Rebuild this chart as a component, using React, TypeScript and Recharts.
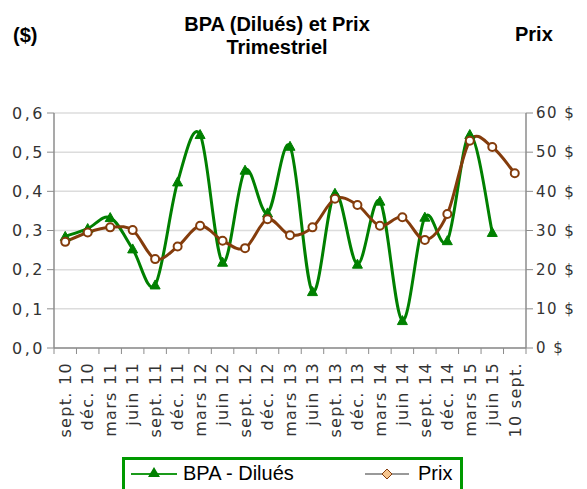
import React from "react";
import {
  LineChart,
  Line,
  XAxis,
  YAxis,
  CartesianGrid,
} from "recharts";

const quarters = [
  "sept. 10", "déc. 10", "mars 11", "juin 11", "sept. 11", "déc. 11",
  "mars 12", "juin 12", "sept. 12", "déc. 12", "mars 13", "juin 13",
  "sept. 13", "déc. 13", "mars 14", "juin 14", "sept. 14", "déc. 14",
  "mars 15", "juin 15", "10 sept.",
];

const bpaDilues = [
  0.285, 0.305, 0.333, 0.253, 0.161, 0.424, 0.545, 0.219, 0.454, 0.345,
  0.515, 0.144, 0.395, 0.214, 0.375, 0.07, 0.334, 0.274, 0.545, 0.295, null,
];

const prix = [
  27.1, 29.5, 30.8, 30.1, 22.7, 25.9, 31.2, 27.4, 25.5, 32.9,
  28.8, 30.8, 38.1, 36.5, 31.2, 33.4, 27.6, 34.2, 52.9, 51.3, 44.6,
];

const bpaTicks = [0, 0.1, 0.2, 0.3, 0.4, 0.5, 0.6];
const prixTicks = [0, 10, 20, 30, 40, 50, 60];

const data = quarters.map((q, i) => ({ q, bpa: bpaDilues[i], prix: prix[i] }));

const GREEN = "#008000";
const BROWN = "#843C0C";
const AXIS = "#8c8c8c";
const TICK_FONT = "'DejaVu Sans', Verdana, sans-serif";
const TITLE_FONT = "'Liberation Sans', Arial, sans-serif";

const W = 587;
const H = 489;
const LEFT_W = 54;
const RIGHT_W = 61;
const BAND = (W - LEFT_W - RIGHT_W) / quarters.length;

// excel-like smoothing (catmull-rom as bezier)
const smoothCurve = (context: any) => {
  let pts: number[][] = [];
  return {
    areaStart() {},
    areaEnd() {},
    lineStart() {
      pts = [];
    },
    point(x: number, y: number) {
      pts.push([+x, +y]);
    },
    lineEnd() {
      if (!pts.length) return;
      context.moveTo(pts[0][0], pts[0][1]);
      for (let i = 0; i < pts.length - 1; i++) {
        const p0 = pts[Math.max(i - 1, 0)];
        const p1 = pts[i];
        const p2 = pts[i + 1];
        const p3 = pts[Math.min(i + 2, pts.length - 1)];
        context.bezierCurveTo(
          p1[0] + (p2[0] - p0[0]) / 6,
          p1[1] + (p2[1] - p0[1]) / 6,
          p2[0] - (p3[0] - p1[0]) / 6,
          p2[1] - (p3[1] - p1[1]) / 6,
          p2[0],
          p2[1]
        );
      }
    },
  };
};

const Triangle = (props: any) => {
  const { cx, cy, index, value } = props;
  if (value == null || cx == null || cy == null) return <g key={`t${index}`} />;
  return (
    <path
      key={`t${index}`}
      d={`M${cx},${cy - 5} L${cx + 5},${cy + 4} L${cx - 5},${cy + 4} Z`}
      fill={GREEN}
      stroke={GREEN}
      strokeWidth={1}
    />
  );
};

const Ring = (props: any) => {
  const { cx, cy, index } = props;
  if (cx == null || cy == null) return <g key={`r${index}`} />;
  return (
    <circle key={`r${index}`} cx={cx} cy={cy} r={4} fill="#fff" stroke={BROWN} strokeWidth={2} />
  );
};

const QuarterTick = (props: any) => {
  const { x, y, payload, index } = props;
  const last = index === quarters.length - 1;
  return (
    <g>
      <line x1={x - BAND / 2} y1={y} x2={x - BAND / 2} y2={y + 6} stroke={AXIS} />
      {last && <line x1={x + BAND / 2} y1={y} x2={x + BAND / 2} y2={y + 6} stroke={AXIS} />}
      <text
        x={x}
        y={y + 14}
        dy="0.36em"
        textAnchor="end"
        transform={`rotate(-90, ${x}, ${y + 14})`}
        fontFamily={TICK_FONT}
        fontSize={16}
        letterSpacing={1.3}
        fill="#333"
      >
        {payload.value}
      </text>
    </g>
  );
};

const leftTickStyle = { fontFamily: TICK_FONT, fontSize: 16, fill: "#333", letterSpacing: 2.5 };
const rightTickStyle = { fontFamily: TICK_FONT, fontSize: 15, fill: "#333", letterSpacing: 1.5 };

const headStyle: React.CSSProperties = {
  position: "absolute",
  fontFamily: TITLE_FONT,
  fontWeight: "bold",
  fontSize: 20,
  lineHeight: "23px",
  color: "#000",
  whiteSpace: "nowrap",
};

export default function App() {
  return (
    <div style={{ position: "absolute", left: 0, top: 0, width: W, height: H, overflow: "hidden", background: "#fff" }}>
      <div style={{ ...headStyle, left: 127, width: 300, top: 13, textAlign: "center" }}>
        BPA (Dilués) et Prix
        <br />
        Trimestriel
      </div>
      <div style={{ ...headStyle, left: 13, top: 24 }}>($)</div>
      <div style={{ ...headStyle, left: 515, top: 23 }}>Prix</div>

      <LineChart
        width={W}
        height={H}
        data={data}
        margin={{ top: 113, right: 0, bottom: 0, left: 0 }}
        style={{ position: "absolute", left: 0, top: 0 }}
      >
        <CartesianGrid yAxisId="left" horizontal vertical={false} stroke="#dcdcdc" strokeWidth={1.5} />
        <XAxis
          dataKey="q"
          interval={0}
          height={H - 348}
          padding={{ left: BAND / 2, right: BAND / 2 }}
          axisLine={{ stroke: AXIS, strokeWidth: 1.5 }}
          tickLine={false}
          tickSize={0}
          tickMargin={0}
          tick={<QuarterTick />}
        />
        <YAxis
          yAxisId="left"
          width={LEFT_W}
          domain={[0, 0.6]}
          ticks={bpaTicks}
          tickFormatter={(v: number) => v.toFixed(1).replace(".", ",")}
          axisLine={{ stroke: AXIS, strokeWidth: 1.5 }}
          tickLine={{ stroke: AXIS }}
          tickSize={7}
          tickMargin={2}
          tick={leftTickStyle}
        />
        <YAxis
          yAxisId="right"
          orientation="right"
          width={RIGHT_W}
          domain={[0, 60]}
          ticks={prixTicks}
          tickFormatter={(v: number) => `${v} $`}
          axisLine={{ stroke: AXIS, strokeWidth: 1.5 }}
          tickLine={{ stroke: AXIS }}
          tickSize={7}
          tickMargin={3}
          tick={rightTickStyle}
        />
        <Line
          yAxisId="left"
          dataKey="bpa"
          type={smoothCurve as any}
          stroke={GREEN}
          strokeWidth={3}
          dot={Triangle}
          activeDot={false}
          isAnimationActive={false}
        />
        <Line
          yAxisId="right"
          dataKey="prix"
          type={smoothCurve as any}
          stroke={BROWN}
          strokeWidth={3}
          dot={Ring}
          activeDot={false}
          isAnimationActive={false}
        />
      </LineChart>

      <div
        style={{
          position: "absolute",
          left: 122,
          top: 457,
          width: 335,
          height: 40,
          border: "3px solid #009900",
          fontFamily: TITLE_FONT,
          fontSize: 20,
          color: "#000",
        }}
      >
        <svg width={48} height={20} style={{ position: "absolute", left: 6, top: 4 }}>
          <line x1={0} y1={10} x2={46} y2={10} stroke="#1a9a1a" strokeWidth={2} />
          <path d="M23,3 L29,13 L17,13 Z" fill={GREEN} />
        </svg>
        <span style={{ position: "absolute", left: 58, top: 2 }}>BPA - Dilués</span>
        <svg width={48} height={20} style={{ position: "absolute", left: 240, top: 4 }}>
          <line x1={0} y1={10} x2={44} y2={10} stroke="#999" strokeWidth={2} />
          <path d="M22,5 L27,10 L22,15 L17,10 Z" fill="#f6c58f" stroke={BROWN} strokeWidth={1} />
        </svg>
        <span style={{ position: "absolute", left: 293, top: 2 }}>Prix</span>
      </div>
    </div>
  );
}
